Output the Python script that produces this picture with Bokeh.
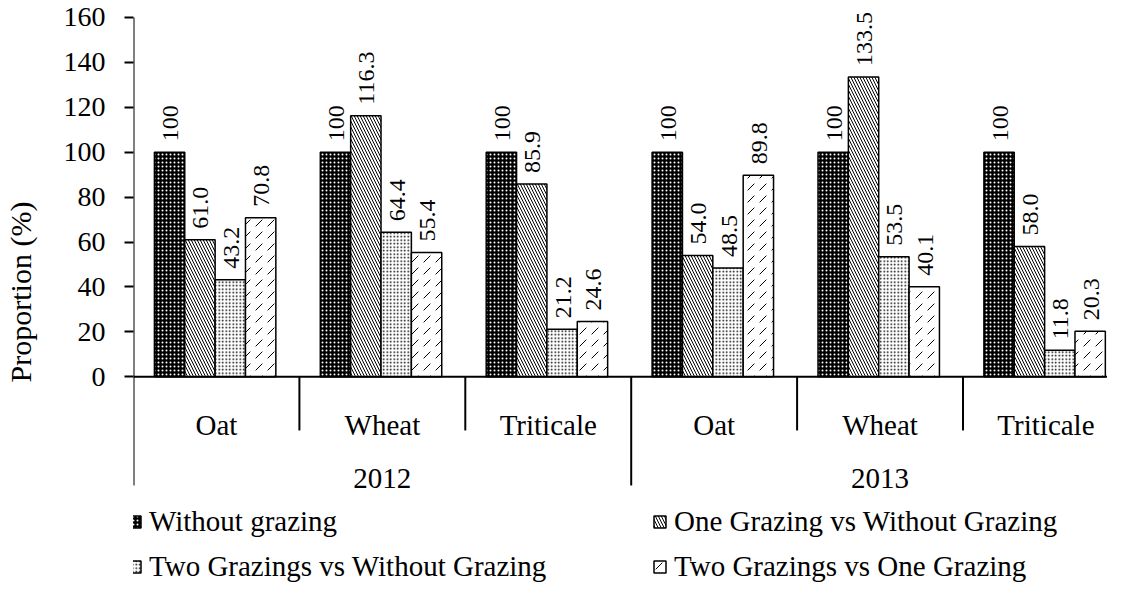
import numpy as np
from bokeh.plotting import figure
from bokeh.models import Range1d, FixedTicker, ColumnDataSource, Legend, LegendItem
from bokeh.core.properties import value
from bokeh.embed import file_html
from bokeh.resources import INLINE

# ---------------- data ----------------
years = ["2012", "2013"]
crops = ["Oat", "Wheat", "Triticale"]
series_names = [
    "Without grazing",
    "One Grazing vs Without Grazing",
    "Two Grazings vs Without Grazing",
    "Two Grazings vs One Grazing",
]
without_grazing = [100, 100, 100, 100, 100, 100]
one_vs_without = [61.0, 116.3, 85.9, 54.0, 133.5, 58.0]
two_vs_without = [43.2, 64.4, 21.2, 48.5, 53.5, 11.8]
two_vs_one = [70.8, 55.4, 24.6, 89.8, 40.1, 20.3]
label_formats = ["{:.0f}", "{:.1f}", "{:.1f}", "{:.1f}"]
y_ticks = [0, 20, 40, 60, 80, 100, 120, 140, 160]

# ---------------- styling ----------------
FONT = "Liberation Serif"
W, H = 1107, 583
styles = [
    dict(fill_color="black", hatch_pattern="dot", hatch_color="white", hatch_scale=4, hatch_weight=1.2),
    dict(fill_color="white", hatch_pattern="left_diagonal_line", hatch_color="black", hatch_scale=6, hatch_weight=1),
    dict(fill_color="white", hatch_pattern="dot", hatch_color="black", hatch_scale=3.5, hatch_weight=1),
    dict(fill_color="white", hatch_pattern="right_diagonal_dash", hatch_color="black", hatch_scale=12, hatch_weight=1),
]

p = figure(width=W, height=H, output_backend="svg", toolbar_location=None,
           x_range=Range1d(0, 5.871), y_range=Range1d(-92.05, 167.57),
           x_axis_location=None, min_border_left=130, min_border_right=0,
           min_border_top=0, min_border_bottom=0)
p.outline_line_color = None
p.grid.visible = False
p.background_fill_color = "white"
p.border_fill_color = "white"

n_crops = len(crops)
n_groups = len(years) * n_crops
group_idx = np.arange(n_groups)
bar_w = 0.183
center = 0.492
series = [without_grazing, one_vs_without, two_vs_without, two_vs_one]

renderers = []
for k, (vals, st, fmt) in enumerate(zip(series, styles, label_formats)):
    xs = group_idx + center + (k - 1.5) * bar_w
    src = ColumnDataSource(dict(x=xs, top=vals, label=[fmt.format(v) for v in vals]))
    r = p.vbar(x="x", top="top", bottom=0, width=bar_w, source=src,
               line_color="black", line_width=1.5, **st)
    renderers.append(r)
    p.text(x="x", y="top", text="label", source=src, angle=np.pi / 2,
           text_align="left", text_baseline="middle", x_offset=1, y_offset=-11,
           text_font=value(FONT), text_font_size="24px", text_color="black")

# axis lines and category separators
p.segment(x0=[0], y0=[0], x1=[n_groups], y1=[0], line_color="black", line_width=2)
p.segment(x0=[0], y0=[0], x1=[0], y1=[y_ticks[-1]], line_color="black", line_width=2)
bounds = np.arange(n_groups + 1)
sep_end = np.where(bounds % n_crops == 0, -48.4, -23.9)
p.segment(x0=bounds, y0=np.zeros(len(bounds)), x1=bounds, y1=sep_end,
          line_color="black", line_width=2)

# category labels
p.text(x=group_idx + 0.5, y=np.full(n_groups, -21.3), text=crops * len(years),
       text_align="center", text_baseline="alphabetic",
       text_font=value(FONT), text_font_size="29px", text_color="black")
p.text(x=np.arange(len(years)) * n_crops + n_crops / 2, y=np.full(len(years), -45.3),
       text=years, text_align="center", text_baseline="alphabetic",
       text_font=value(FONT), text_font_size="29px", text_color="black")

# y axis
yax = p.yaxis[0]
yax.ticker = FixedTicker(ticks=y_ticks)
yax.axis_line_color = None
yax.major_tick_out = 9
yax.major_tick_in = 0
yax.major_tick_line_width = 2
yax.major_tick_line_color = "black"
yax.minor_tick_line_color = None
yax.major_label_text_font = FONT
yax.major_label_text_font_size = "28px"
yax.major_label_text_color = "black"
yax.major_label_standoff = 19
yax.axis_label = "Proportion (%)"
yax.axis_label_text_font = FONT
yax.axis_label_text_font_size = "30px"
yax.axis_label_text_font_style = "normal"
yax.axis_label_text_color = "black"
yax.axis_label_standoff = 24

legend = Legend(
    items=[LegendItem(label=n, renderers=[r]) for n, r in zip(series_names, renderers)],
    location=(-6, 0), orientation="horizontal", ncols=2,
    border_line_color=None, background_fill_alpha=0, padding=0, margin=0,
    spacing=12, glyph_width=15, glyph_height=15, label_standoff=7, label_width=491,
    label_text_font=FONT, label_text_font_size="29px", label_text_color="black",
)
p.add_layout(legend)

open("out.html", "w").write(file_html(p, INLINE))
